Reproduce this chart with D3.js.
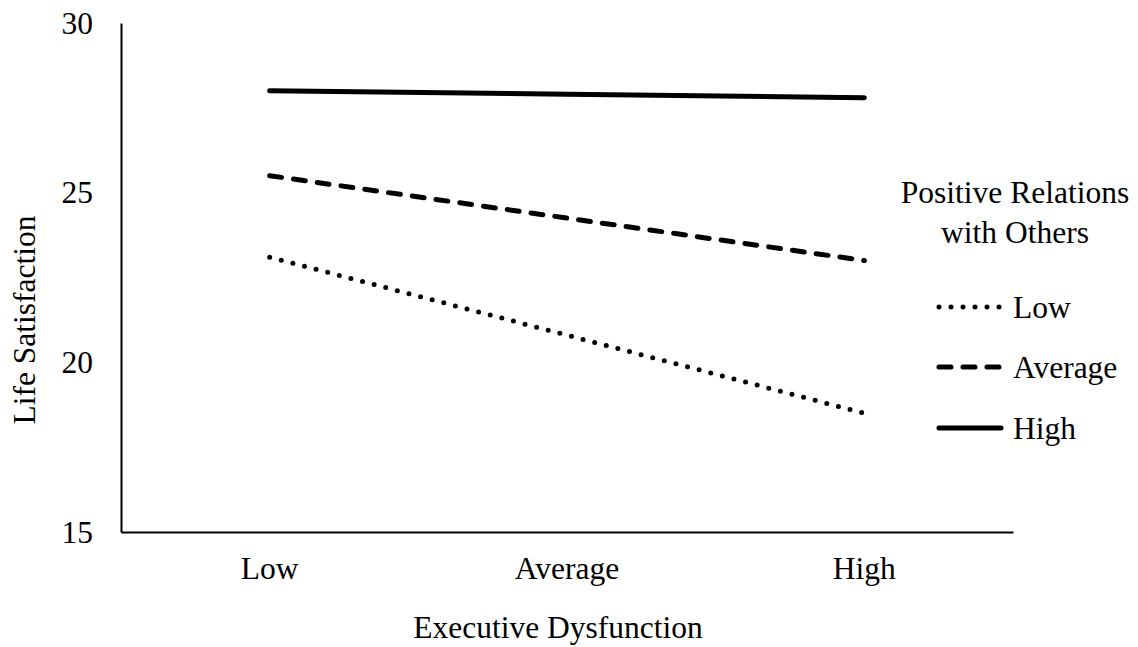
<!DOCTYPE html>
<html><head><meta charset="utf-8">
<script src="https://cdn.jsdelivr.net/npm/d3@7/dist/d3.min.js"></script>
<style>body{margin:0;background:#fff}svg text{font-family:'Liberation Serif','Tinos','Times New Roman','DejaVu Serif',serif !important;fill:#000}</style>
</head><body><svg id="c" width="1138" height="647"></svg>
<script>
const categories = ["Low", "Average", "High"];
const seriesNames = ["Low", "Average", "High"];
const lowValues = [23.1, 20.8, 18.5];
const averageValues = [25.5, 24.25, 23.0];
const highValues = [28.0, 27.9, 27.8];
const yTicks = [15, 20, 25, 30];

const svg = d3.select("#c");
const mLeft = 121, mRight = 1013, mTop = 23, mBottom = 532;
const x = d3.scaleBand().domain(categories).range([mLeft, mRight]);
const y = d3.scaleLinear().domain([15, 30]).range([mBottom, mTop]);
const fs = 31.5;
const ff = "'Liberation Serif', 'Times New Roman', serif";

// axes
const ya = svg.append("g").attr("transform", `translate(${mLeft},0)`)
  .call(d3.axisLeft(y).tickValues(yTicks).tickSize(0).tickPadding(28));
ya.attr("font-family", ff);
ya.select(".domain").attr("stroke", "#000").attr("stroke-width", 2);
ya.selectAll("text").style("font-size", fs + "px");

const xa = svg.append("g").attr("transform", `translate(0,${mBottom})`)
  .call(d3.axisBottom(x).tickSize(0).tickPadding(25));
xa.attr("font-family", ff);
xa.select(".domain").attr("stroke", "#000").attr("stroke-width", 2);
xa.selectAll("text").style("font-size", fs + "px");

const styles = {
  Low: {dash: "0 12", w: 5},
  Average: {dash: "12 12", w: 5},
  High: {dash: null, w: 5}
};
const data = [
  {name: "Low", values: lowValues},
  {name: "Average", values: averageValues},
  {name: "High", values: highValues}
];
const line = d3.line().x((d, i) => x(categories[i]) + x.bandwidth() / 2).y(d => y(d));
svg.selectAll("path.series").data(data).enter().append("path")
  .attr("class", "series")
  .attr("d", d => line(d.values))
  .attr("fill", "none").attr("stroke", "#000")
  .attr("stroke-width", d => styles[d.name].w)
  .attr("stroke-linecap", "round")
  .attr("stroke-dasharray", d => styles[d.name].dash);

// axis titles
svg.append("text").attr("x", 558).attr("y", 638)
  .attr("text-anchor", "middle").style("font-size", fs + "px").text("Executive Dysfunction");
svg.append("text").attr("transform", `translate(35,320) rotate(-90)`)
  .attr("text-anchor", "middle").style("font-size", fs + "px").text("Life Satisfaction");

// legend
const lg = svg.append("g");
lg.append("text").attr("x", 1015).attr("y", 203).attr("text-anchor", "middle")
  .style("font-size", fs + "px").text("Positive Relations");
lg.append("text").attr("x", 1015).attr("y", 243).attr("text-anchor", "middle")
  .style("font-size", fs + "px").text("with Others");
const ly = [307, 367, 428];
seriesNames.forEach((n, i) => {
  lg.append("line").attr("x1", 939).attr("x2", 1001).attr("y1", ly[i]).attr("y2", ly[i])
    .attr("stroke", "#000").attr("stroke-width", styles[n].w)
    .attr("stroke-linecap", "round").attr("stroke-dasharray", styles[n].dash);
  lg.append("text").attr("x", 1013).attr("y", ly[i]).attr("dy", "0.35em")
    .style("font-size", fs + "px").text(n);
});
</script></body></html>
